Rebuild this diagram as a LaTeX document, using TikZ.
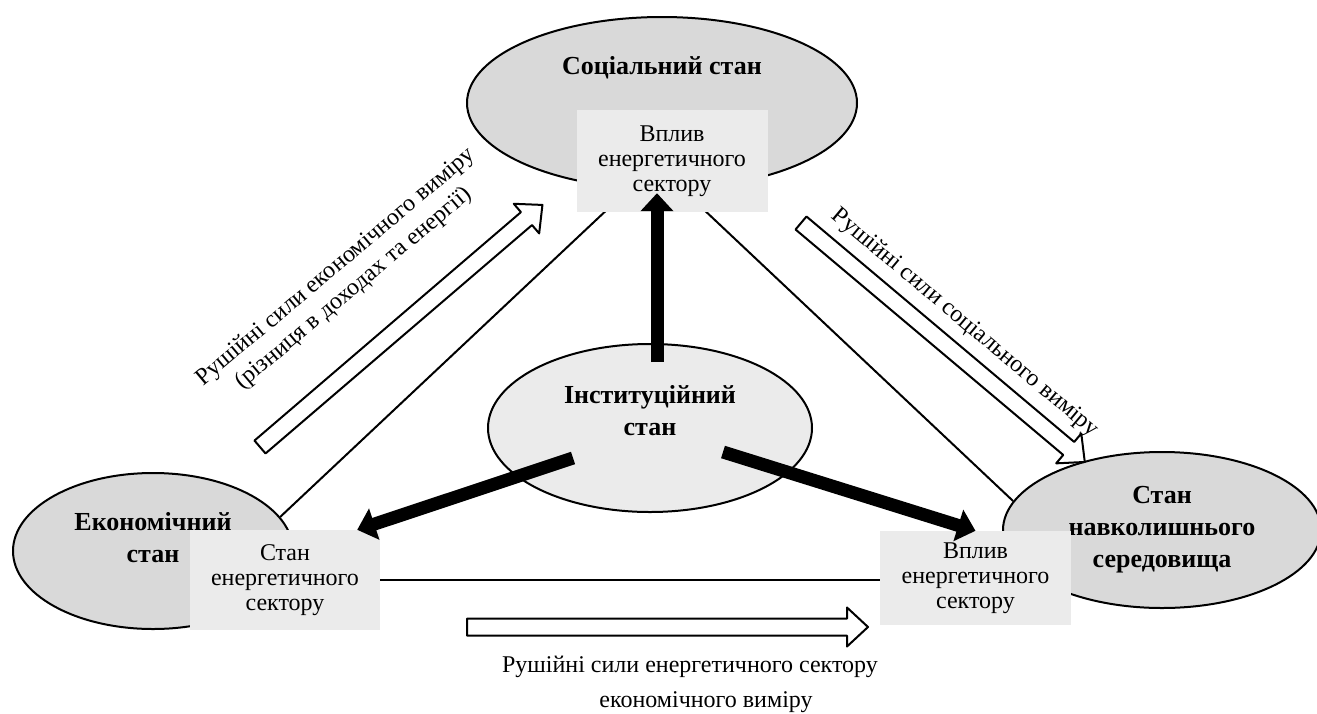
\documentclass[tikz,border=0pt]{standalone}
\usepackage{fontspec}
\setmainfont{Liberation Serif}
\usetikzlibrary{shapes.geometric,arrows.meta,positioning,calc}
\definecolor{stategray}{HTML}{D9D9D9}
\definecolor{sectorgray}{HTML}{EBEBEB}
\begin{document}
\begin{tikzpicture}[x=1pt,y=-1pt,line join=round,
  state/.style={ellipse,draw,line width=2pt,fill=stategray,inner sep=0pt},
  sector/.style={rectangle,fill=sectorgray,inner sep=0pt,align=center,font=\fontsize{24}{25}\selectfont},
  statetext/.style={align=center,font=\fontsize{26}{32}\selectfont\bfseries},
  caption/.style={align=center,font=\fontsize{24}{28}\selectfont},
  link/.style={line width=2pt},
  push/.style={line width=13pt,-{Triangle[width=32pt,length=18pt]}},
  force/.style={draw,line width=2pt,fill=white}]
\useasboundingbox[fill=white] (0,0) rectangle (1317,713);

% states
\node[state,minimum width=390pt,minimum height=172pt] (soc) at (662,103) {};
\node[state,minimum width=280pt,minimum height=156pt] (eco) at (153,551) {};
\node[state,minimum width=318pt,minimum height=156pt] (env) at (1162,530) {};
\node[state,fill=sectorgray,minimum width=324pt,minimum height=168pt] (inst) at (650,428) {};

\node[statetext] (soctext) at ([yshift=35pt]soc.center) {Соціальний стан};
\node[statetext] (insttext) at ([yshift=17pt]inst.center) {Інституційний\\стан};
\node[statetext] (ecotext) at ([yshift=13pt]eco.center) {Економічний\\стан};
\node[statetext] (envtext) at (env.center) {Стан\\навколишнього\\середовища};

% links
\draw[link] (soc.south -| 628,0) coordinate (socleft) -- (eco.15);
\draw[link] (soc.south -| 683,0) coordinate (socright) -- (env.169);

% energy sector
\node[sector,minimum width=191pt,minimum height=102pt] (socbox) at (672,161) {Вплив\\енергетичного\\сектору};
\node[sector,minimum width=190pt,minimum height=100pt] (ecobox) at (285,580) {Стан\\енергетичного\\сектору};
\node[sector,minimum width=191pt,minimum height=94pt] (envbox) at (975.5,578) {Вплив\\енергетичного\\сектору};

\draw[link] (ecobox.east) -- (ecobox.east -| envbox.west);

\draw[push] ([xshift=7pt,yshift=66pt]inst.center) -- ([xshift=-15pt,yshift=19pt]socbox.south);
\draw[push] ([xshift=-77pt,yshift=-30pt]inst.center) -- ([xshift=-23pt]ecobox.north east);
\draw[push] ([xshift=73pt,yshift=-24pt]inst.center) -- (envbox.north);

% driving forces
\foreach \px/\py/\ang/\len in {260/447/40.6/372, 801/223/-40.1/371, 467/627/0/401}
  \filldraw[force,shift={(\px,\py)},rotate=\ang]
    (0,-8.5)--({\len-21},-8.5)--({\len-21},-19.5)--(\len,0)--({\len-21},19.5)--({\len-21},8.5)--(0,8.5)--cycle;

\node[caption,rotate=40] (ecolabel) at (345,278) {Рушійні сили економічного виміру\\(різниця в доходах та енергії)};
\node[caption,rotate=-40] (soclabel) at (965,323) {Рушійні сили соціального виміру};
\node[caption] (enlabel) at (690,667) {Рушійні сили енергетичного сектору};
\node[caption] (enlabelb) at (706,702) {економічного виміру};
\end{tikzpicture}
\end{document}
